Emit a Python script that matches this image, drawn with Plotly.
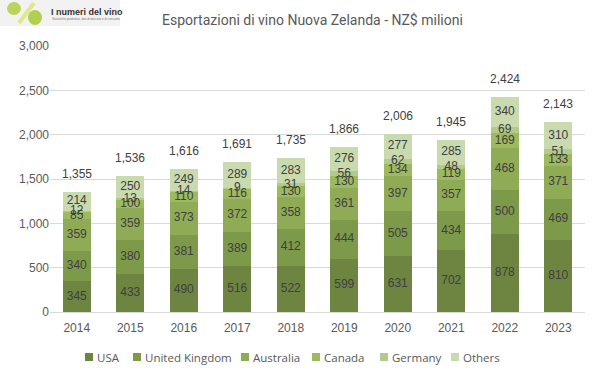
import plotly.graph_objects as go

years = [2014, 2015, 2016, 2017, 2018, 2019, 2020, 2021, 2022, 2023]
usa = [345, 433, 490, 516, 522, 599, 631, 702, 878, 810]
uk = [340, 380, 381, 389, 412, 444, 505, 434, 500, 469]
australia = [359, 359, 373, 372, 358, 361, 397, 357, 468, 371]
canada = [85, 100, 110, 116, 130, 130, 134, 119, 169, 133]
germany = [12, 13, 14, 9, 31, 56, 62, 48, 69, 51]
others = [214, 250, 249, 289, 283, 276, 277, 285, 340, 310]
totals = [1355, 1536, 1616, 1691, 1735, 1866, 2006, 1945, 2424, 2143]

series = [
    ("USA", usa, "#6d8541"),
    ("United Kingdom", uk, "#7d994a"),
    ("Australia", australia, "#8fab56"),
    ("Canada", canada, "#9dbb5e"),
    ("Germany", germany, "#b2ca8c"),
    ("Others", others, "#c9daaf"),
]

# pixel -> paper helpers (plot area: x 50..585, y 46..312)
def px(v):
    return (v - 50) / 535

def py(v):
    return (312 - v) / 266

fig = go.Figure()
for name, vals, col in series:
    fig.add_trace(go.Bar(x=list(years), y=list(vals), name=name, width=0.52,
                         marker=dict(color=col, line=dict(width=0)), hoverinfo="skip",
                         showlegend=False))

# segment labels at middle of each segment
base = [0] * len(years)
for name, vals, col in series:
    mids = [b + v / 2 for b, v in zip(base, vals)]
    fig.add_trace(go.Scatter(x=list(years), y=mids, mode="text", text=[str(v) for v in vals],
                             textfont=dict(family="Liberation Sans", size=12, color="#404040"),
                             showlegend=False, hoverinfo="skip"))
    base = [b + v for b, v in zip(base, vals)]

for yr, t in zip(years, totals):
    fig.add_annotation(x=yr, y=t, text=f"{t:,}", showarrow=False, yanchor="bottom", yshift=9,
                       font=dict(family="Liberation Sans", size=12, color="#404040"))

# title
fig.add_annotation(xref="paper", yref="paper", x=px(312), y=py(20), xanchor="center", yanchor="middle",
                   text="Esportazioni di vino Nuova Zelanda - NZ$ milioni", showarrow=False,
                   font=dict(family="Roboto", size=14, color="#595959"))

# compact legend (squares + labels)
legend_x = [85, 133, 241, 312, 380, 451]
for (name, vals, col), lx in zip(series, legend_x):
    fig.add_shape(type="rect", xref="paper", yref="paper", x0=px(lx), x1=px(lx + 8),
                  y0=py(361), y1=py(353), fillcolor=col, line=dict(width=0))
    fig.add_annotation(xref="paper", yref="paper", x=px(lx + 10), y=py(357), xanchor="left",
                       yanchor="middle", text=name, showarrow=False,
                       font=dict(family="Open Sans", size=11.5, color="#595959"))

# logo approximation
fig.add_shape(type="rect", xref="paper", yref="paper", x0=px(0), x1=px(120), y0=py(26), y1=py(0),
              fillcolor="#f2f2f2", line=dict(width=0), layer="below")
fig.add_shape(type="circle", xref="paper", yref="paper", x0=px(7), x1=px(21), y0=py(15), y1=py(2),
              fillcolor="#bcd45c", line=dict(width=0))
fig.add_shape(type="line", xref="paper", yref="paper", x0=px(19), x1=px(34), y0=py(23), y1=py(3),
              line=dict(color="#dfe98a", width=4))
fig.add_shape(type="circle", xref="paper", yref="paper", x0=px(28), x1=px(42), y0=py(25), y1=py(10),
              fillcolor="#b3cf52", line=dict(width=0))
fig.add_annotation(xref="paper", yref="paper", x=px(49), y=py(12), xanchor="left", yanchor="middle",
                   showarrow=False, text="<b>I numeri del vino</b>",
                   font=dict(family="Liberation Sans", size=9, color="#333333"))
fig.add_annotation(xref="paper", yref="paper", x=px(50), y=py(19), xanchor="left", yanchor="middle",
                   showarrow=False, text="Statistiche produttive, dati di mercato e di consumo",
                   font=dict(family="Liberation Sans", size=3, color="#777777"))

fig.update_layout(
    barmode="stack",
    width=601, height=378,
    margin=dict(l=50, r=16, t=46, b=66, autoexpand=False),
    paper_bgcolor="white", plot_bgcolor="white",
    font=dict(family="Liberation Sans", size=12, color="#595959"),
    showlegend=False,
    xaxis=dict(type="linear", range=[2013.5, 2023.5], tickmode="linear", tick0=2014, dtick=1,
               showgrid=False, showline=True, linecolor="#d9d9d9", ticks="", ticklabelstandoff=5,
               tickfont=dict(family="Liberation Sans", size=12, color="#595959")),
    yaxis=dict(range=[0, 3000], dtick=500, tickformat=",", showgrid=True, gridcolor="#d9d9d9",
               zeroline=False, ticks="", showline=False, ticklabelstandoff=0,
               tickfont=dict(family="Liberation Sans", size=12, color="#595959")),
)

fig.write_html("out.html", config={"displayModeBar": False},
               post_script="document.body.style.margin='0px';document.body.style.overflow='hidden';")
